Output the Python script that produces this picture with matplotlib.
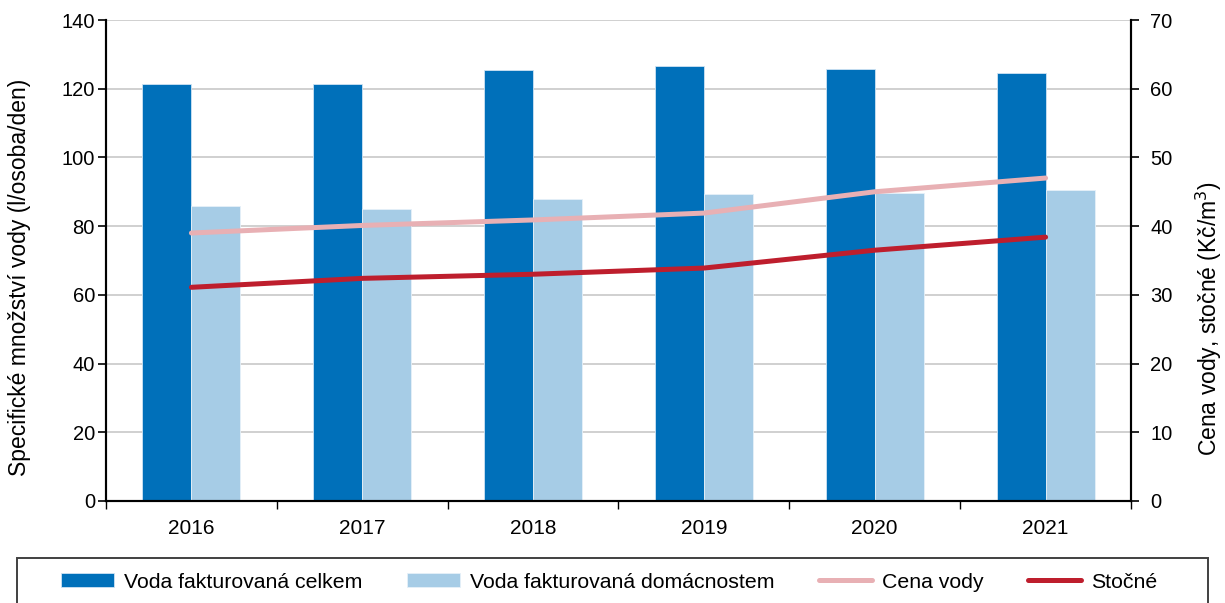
import matplotlib.pyplot as plt
import numpy as np
from matplotlib.patches import Rectangle

plt.rcParams['font.family'] = ['Liberation Sans', 'DejaVu Sans']
plt.rcParams['font.size'] = 14.5

# data
years = ['2016', '2017', '2018', '2019', '2020', '2021']
vodaCelkem = [121.4, 121.3, 125.5, 126.7, 125.6, 124.6]
vodaDomacnosti = [85.9, 85.0, 87.9, 89.3, 89.7, 90.4]
cenaVody = [39.0, 40.1, 40.9, 41.9, 45.0, 47.0]
stocne = [31.1, 32.4, 33.0, 33.9, 36.5, 38.4]

colDark = '#0070BA'
colLight = '#A6CCE6'
colPink = '#E8B0B4'
colRed = '#BE1E2D'


def main():
    fig = plt.figure(figsize=(12.25, 6.03), dpi=100)
    ax = fig.add_axes([106 / 1225, 1 - 501 / 603, (1131 - 106) / 1225, (501 - 20) / 603])
    ax2 = ax.twinx()

    x = np.arange(len(years))
    w = 0.287
    ax.bar(x - w / 2, vodaCelkem, w, color=colDark, edgecolor='#cfe3f3', linewidth=0.6,
           label='Voda fakturovaná celkem', zorder=2)
    ax.bar(x + w / 2, vodaDomacnosti, w, color=colLight, edgecolor='#e6f0f8', linewidth=0.6,
           label='Voda fakturovaná domácnostem', zorder=2)

    ax2.plot(x, cenaVody, color=colPink, lw=3.6, solid_capstyle='round', label='Cena vody')
    ax2.plot(x, stocne, color=colRed, lw=3.6, solid_capstyle='round', label='Stočné')

    ax.set_xlim(-0.5, len(years) - 0.5)
    ax.set_ylim(0, 140)
    ax.set_yticks(np.arange(0, 141, 20))
    ax2.set_ylim(0, 70)
    ax2.set_yticks(np.arange(0, 71, 10))

    ax.set_xticks(x)
    ax.set_xticklabels(years, fontsize=15)
    ax.set_xticks(np.arange(-0.5, len(years), 1), minor=True)
    ax.tick_params(axis='x', which='major', length=0, pad=13)
    ax.tick_params(axis='x', which='minor', length=6, width=1, direction='out')
    ax.tick_params(axis='y', length=6, width=1.2, direction='out', pad=2)
    ax2.tick_params(axis='y', length=6, width=1.2, direction='out', pad=8)

    ax.yaxis.grid(True, color='#c8c8c8', lw=1.2, zorder=0)
    ax.set_axisbelow(True)

    for a in (ax, ax2):
        a.spines['top'].set_visible(False)
        a.spines['left'].set_linewidth(1.5)
        a.spines['right'].set_linewidth(1.5)
        a.spines['bottom'].set_linewidth(1.5)

    # axis titles placed where they sit in the original
    fig.text(20 / 1225, 1 - 277 / 603, 'Specifické množství vody (l/osoba/den)',
             rotation=90, ha='center', va='center', fontsize=16.5)
    fig.text(1209 / 1225, 1 - 319 / 603, 'Cena vody, stočné (Kč/m$^3$)',
             rotation=90, ha='center', va='center', fontsize=16.5)

    # legend frame reaching the bottom edge
    fig.add_artist(Rectangle((17 / 1225, -0.02), (1208 - 17) / 1225, 0.02 + 45 / 603,
                             transform=fig.transFigure, facecolor='white',
                             edgecolor='#404040', linewidth=1.4))

    h1, l1 = ax.get_legend_handles_labels()
    h2, l2 = ax2.get_legend_handles_labels()
    fig.legend(h1 + h2, l1 + l2, loc='center', ncol=4,
               bbox_to_anchor=(609 / 1225, 1 - 582 / 603),
               frameon=False, handlelength=2.5, handleheight=0.6,
               handletextpad=0.47, columnspacing=2.1, fontsize=15.3)

    plt.savefig('out.png', dpi=100)


if __name__ == '__main__':
    main()
